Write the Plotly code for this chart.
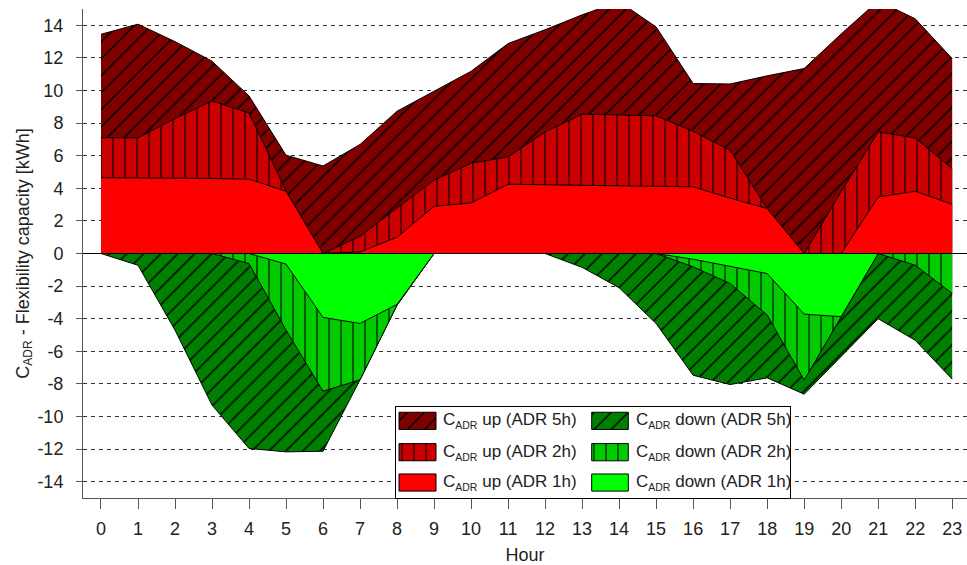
import plotly.graph_objects as go

# ---------------- data ----------------
hours = list(range(24))

up_5h = [13.45, 14.07, 13.0, 11.8, 9.67, 6.03, 5.37, 6.69, 8.73, 9.95, 11.18, 12.88,
         13.73, 14.64, 15.46, 13.9, 10.43, 10.4, 10.9, 11.35, 13.47, 15.5, 14.4, 11.96]
up_2h = [7.1, 7.1, 8.28, 9.36, 8.63, 3.85, 0.0, 1.06, 2.8, 4.5, 5.54, 5.93,
         7.46, 8.55, 8.5, 8.45, 7.5, 6.34, 2.76, 0.0, 3.8, 7.46, 7.09, 5.21]
up_1h = [4.65, 4.65, 4.62, 4.6, 4.56, 3.82, 0.0, 0.1, 1.0, 2.9, 3.1, 4.25,
         4.22, 4.2, 4.18, 4.15, 4.09, 3.4, 2.76, 0.0, 0.0, 3.47, 3.82, 3.02]

down_5h = [0.0, -0.72, -4.7, -9.3, -11.96, -12.17, -12.13, -7.75, -3.17, 0.0, 0.0, 0.0,
           0.0, -0.85, -2.1, -4.3, -7.47, -8.04, -7.63, -8.63, -6.3, -4.0, -5.32, -7.71]
down_2h = [0.0, 0.0, 0.0, 0.0, -0.62, -4.7, -8.45, -7.75, -3.17, 0.0, 0.0, 0.0,
           0.0, 0.0, 0.0, 0.0, -0.82, -1.84, -3.78, -7.77, -3.9, 0.0, -0.72, -2.45]
down_1h = [0.0, 0.0, 0.0, 0.0, 0.0, -0.65, -3.92, -4.29, -3.12, 0.0, 0.0, 0.0,
           0.0, 0.0, 0.0, 0.0, -0.35, -0.8, -1.23, -3.72, -3.88, 0.0, 0.0, 0.0]

y_ticks = list(range(-14, 15, 2))
y_tick_labels = [str(v) for v in y_ticks]
x_ticks = hours

SUB = "C<sub><span style='font-size:10.5px'>ADR</span></sub>"
series = [
    (SUB + " up (ADR 5h)", up_5h, "#800000", "/"),
    (SUB + " up (ADR 2h)", up_2h, "#CC0000", "|"),
    (SUB + " up (ADR 1h)", up_1h, "#FF0000", ""),
    (SUB + " down (ADR 5h)", down_5h, "#008000", "/"),
    (SUB + " down (ADR 2h)", down_2h, "#00CC00", "|"),
    (SUB + " down (ADR 1h)", down_1h, "#00FF00", ""),
]

FONT = "Liberation Sans, Arial, sans-serif"
TXT = "#222222"


def pattern(shape, color):
    if not shape:
        return dict(shape="", bgcolor=color)
    sol = 0.12 if shape == "/" else 0.09
    return dict(shape=shape, bgcolor=color, fgcolor="black", size=12,
                solidity=sol, fillmode="replace")


fig = go.Figure()

for name, vals, col, shp in series:
    fig.add_trace(go.Scatter(
        x=hours, y=vals, name=name, mode="lines", fill="tozeroy",
        fillcolor=col, fillpattern=pattern(shp, col),
        line=dict(color="black", width=1), showlegend=False,
        hoverinfo="skip"))

# ---------- legend drawn in an inset axis ----------
leg_w, leg_h = 394, 90
rows = [76.3, 45.3, 15.3]
cols = [(3, 40, 45.0), (195.7, 232.3, 238)]
half = 8.5
for i, (name, vals, col, shp) in enumerate(series):
    cx0, cx1, tx = cols[i // 3]
    cy = rows[i % 3]
    fig.add_trace(go.Scatter(
        x=[cx0, cx1, cx1, cx0, cx0], y=[cy - half, cy - half, cy + half, cy + half, cy - half],
        xaxis="x2", yaxis="y2", mode="lines", fill="toself", fillcolor=col,
        fillpattern=pattern(shp, col), line=dict(color="black", width=1),
        showlegend=False, hoverinfo="skip"))
    fig.add_annotation(x=tx, y=cy, xref="x2", yref="y2", text=name, showarrow=False,
                       xanchor="left", yanchor="middle",
                       font=dict(family=FONT, size=17, color=TXT))

L, R, T, B = 83, 0, 9, 67
W, H = 967, 565
pw, ph = W - L - R, H - T - B

fig.add_shape(type="line", xref="paper", yref="y", x0=0, x1=1, y0=0, y1=0,
              line=dict(color="black", width=1.2), layer="above")

fig.update_layout(
    width=W, height=H,
    margin=dict(l=L, r=R, t=T, b=B),
    paper_bgcolor="white", plot_bgcolor="white",
    font=dict(family=FONT, size=18, color=TXT),
    showlegend=False,
    xaxis=dict(range=[-0.486, 23.4], tickmode="array", tickvals=x_ticks,
               ticks="outside", ticklen=10, tickcolor="#555", tickwidth=1,
               showline=True, linecolor="#555", linewidth=1,
               showgrid=False, zeroline=False, ticklabelstandoff=4,
               title=dict(text="Hour", standoff=15, font=dict(size=18))),
    yaxis=dict(range=[-15, 15], tickmode="array", tickvals=y_ticks, ticktext=y_tick_labels,
               ticks="outside", ticklen=6, tickcolor="#555", tickwidth=1,
               showline=True, linecolor="#555", linewidth=1,
               showgrid=True, gridcolor="#333333", griddash="4px,4px", gridwidth=1,
               zeroline=False, ticklabelstandoff=9,
               title=dict(text="C<sub><span style='font-size:12px'>ADR</span></sub> - Flexibility capacity [kWh]",
                          standoff=3, font=dict(size=18))),
    xaxis2=dict(domain=[(396 - L) / pw, (790 - L) / pw], range=[0, leg_w], anchor="y2",
                showgrid=False, zeroline=False, showticklabels=False, ticks="",
                showline=True, mirror=True, linecolor="black", linewidth=1, fixedrange=True),
    yaxis2=dict(domain=[0, (H - B - 407) / ph], range=[0, leg_h], anchor="x2",
                showgrid=False, zeroline=False, showticklabels=False, ticks="",
                showline=True, mirror=True, linecolor="black", linewidth=1, fixedrange=True),
)

fig.write_html("out.html")
